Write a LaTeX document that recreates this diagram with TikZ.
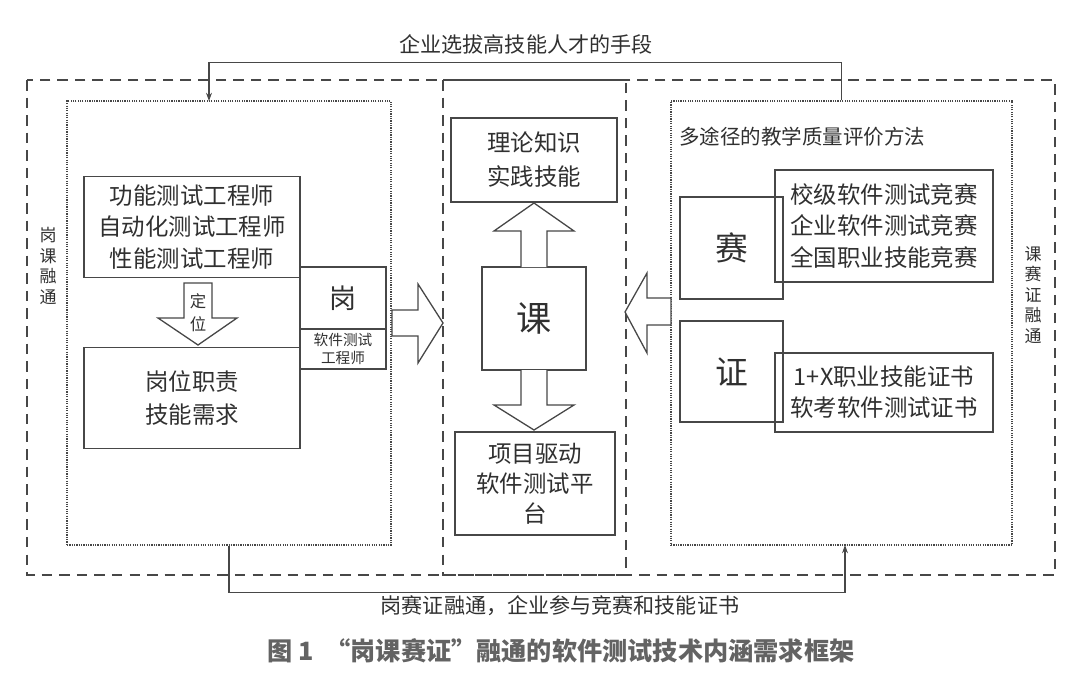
\documentclass[tikz,border=0pt]{standalone}
\usepackage{fontspec}
\setmainfont{Noto Sans CJK SC}
\usetikzlibrary{arrows.meta,calc}
\definecolor{ln}{HTML}{474747}
\definecolor{tx}{HTML}{303030}
\newcommand\fsz[2]{\fontsize{#1pt}{#2pt}\selectfont}
\begin{document}
\begin{tikzpicture}[x=0.03cm,y=-0.03cm,
  sz/.style 2 args={minimum width={#1*0.03cm},minimum height={#2*0.03cm}},
  box/.style={draw=ln,line width=1.1pt,inner sep=0pt,text=tx,align=center},
  dotbox/.style={draw=ln,line width=1pt,densely dotted,inner sep=0pt},
  bigdash/.style={draw=ln,line width=2.1pt,dash pattern=on 9pt off 6pt},
  blockarrow/.style={draw=ln,line width=1.1pt,fill=white,line join=miter},
  conn/.style={draw=ln,line width=1pt,-{Stealth[length=7pt,width=5pt]}},
  lbl/.style={text=tx,inner sep=0pt,align=center}]
\useasboundingbox (0,0) rectangle (1080,687);
\fill[white] (0,0) rectangle (1080,687);

% containers
\draw[bigdash] (27,80) rectangle (1055,575);
\draw[bigdash] (443,80) rectangle (626,575);
\node[dotbox,sz={324}{444}] (lbox) at (229,323) {};
\node[dotbox,sz={341}{444}] (rbox) at (841.5,323) {};

% top connector
\coordinate (lin) at (209,101);
\draw[conn] (rbox.north) -- ++(0,-38) -| (lin);
\node[lbl,font=\fsz{18}{20}] (toplbl) at (526,44) {企业选拔高技能人才的手段};

% bottom connector
\coordinate (rin) at (845,545);
\draw[conn] (lbox.south) -- ++(0,47) -| (rin);
\node[lbl,font=\fsz{18}{20}] (botlbl) at (560,606) {岗赛证融通，企业参与竞赛和技能证书};

% caption
\node[lbl,font=\fsz{21.5}{24}\bfseries,text=ln!85] (caption) at (561,651) {图 1\ \ “岗课赛证”融通的软件测试技术内涵需求框架};

% side labels
\node[lbl,font=\fsz{14.5}{17.5}] (lside) at (48,266) {岗\\课\\融\\通};
\node[lbl,font=\fsz{14.5}{17.5}] (rside) at (1033,295) {课\\赛\\证\\融\\通};

% left box content
\node[box,sz={216}{101},font=\fsz{20}{27}] (jobs) at (192,227) {功能测试工程师\\自动化测试工程师\\性能测试工程师};
\node[box,sz={216}{101},font=\fsz{20}{28}] (duty) at (192,398) {岗位职责\\技能需求};
\node[box,sz={86}{62},font=\fsz{23}{23}] (gang) at (343,298) {岗};
\node[box,sz={86}{40},font=\fsz{12.5}{16}] (gangsub) at (343,349) {软件测试\\工程师};

\draw[blockarrow] (184,283) -- (212,283) -- (212,318) -- (237,318) -- (198,345) -- (158,318) -- (184,318) -- cycle;
\node[lbl,font=\fsz{14}{19.5}] (dingwei) at (198,313) {定\\位};

\draw[blockarrow] (392,310) -- (418,310) -- (418,284) -- (443,323) -- (418,363) -- (418,336) -- (392,336) -- cycle;

% middle content
\node[box,sz={166}{84},font=\fsz{20}{29}] (theory) at (534,160) {理论知识\\实践技能};
\node[box,sz={104}{103},font=\fsz{30}{30}] (ke) at (534,318.5) {课};
\node[box,sz={160}{103},font=\fsz{20}{25.5}] (platform) at (535,483.5) {项目驱动\\软件测试平\\台};
\draw[blockarrow] (521,267) -- (521,231) -- (494,231) -- (534,203) -- (574,231) -- (547,231) -- (547,267);
\draw[blockarrow] (521,370) -- (521,405) -- (494,405) -- (534,430) -- (574,405) -- (547,405) -- (547,370);

\draw[blockarrow] (671,298) -- (647,298) -- (647,273) -- (625,312) -- (647,353) -- (647,325) -- (671,325) -- cycle;

% right content
\node[lbl,anchor=west,font=\fsz{17.5}{20}] (rtitle) at (679,137) {多途径的教学质量评价方法};
\node[box,sz={103}{102},font=\fsz{28}{28}] (sai) at (731.5,248) {赛};
\node[box,sz={218}{112},font=\fsz{20}{27}] (comp) at (884,226) {校级软件测试竞赛\\企业软件测试竞赛\\全国职业技能竞赛};
\node[box,sz={103}{101},font=\fsz{28}{28}] (zheng) at (731.5,371.5) {证};
\node[box,sz={218}{79},font=\fsz{20}{26.5}] (cert) at (884,392.5) {1+X职业技能证书\\软考软件测试证书};
\end{tikzpicture}
\end{document}
